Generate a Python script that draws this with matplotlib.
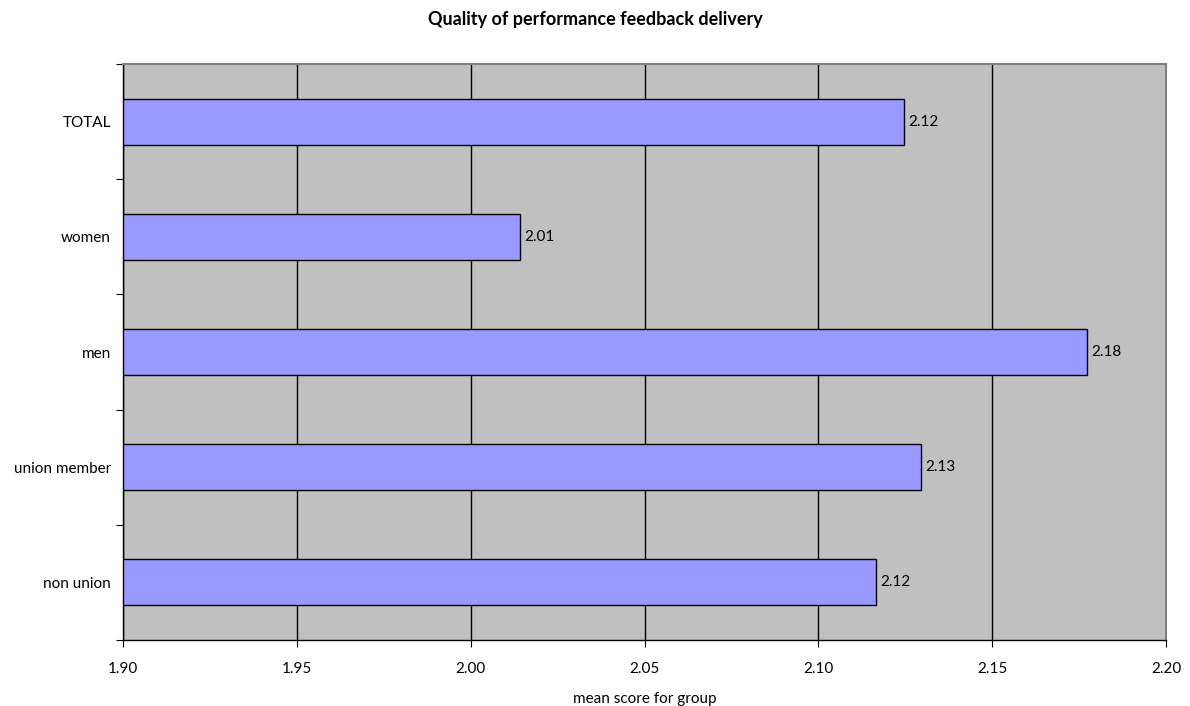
import matplotlib
matplotlib.use('Agg')
import matplotlib.pyplot as plt
import numpy as np

groups = ['TOTAL', 'women', 'men', 'union member', 'non union']
scores = [2.1246, 2.0142, 2.1772, 2.1296, 2.1166]
xticks = [1.90, 1.95, 2.00, 2.05, 2.10, 2.15, 2.20]

plt.rcParams['font.family'] = ['Lato', 'DejaVu Sans']

fig = plt.figure(figsize=(11.9, 7.06), dpi=100)
ax = fig.add_axes([123.3/1190, 1 - 640/706, (1166 - 123.3)/1190, (640 - 64)/706])
ax.set_facecolor('#c0c0c0')

# first category at the top
ypos = np.arange(len(groups))[::-1]
ax.barh(ypos, np.array(scores) - 1.90, left=1.90, height=0.4,
        color='#9999ff', edgecolor='black', linewidth=1.0, zorder=3)
for y, v in zip(ypos, scores):
    ax.text(v + 0.0012, y, '%.2f' % v, va='center', ha='left', fontsize=11, zorder=4)

ax.set_xlim(1.90, 2.20)
ax.set_ylim(-0.5, len(groups) - 0.5)
ax.set_xticks(xticks)
ax.set_xticklabels(['%.2f' % t for t in xticks], fontsize=11)
ax.xaxis.grid(True, color='black', linewidth=1.0, zorder=1)
ax.set_axisbelow(True)

# y ticks at the category boundaries, labels centred on the bars
ax.set_yticks(np.arange(-0.5, len(groups), 1.0))
ax.set_yticklabels([])
ax.set_yticks(ypos, minor=True)
ax.set_yticklabels(groups, minor=True, fontsize=11)
ax.tick_params(axis='y', which='major', length=5, color='black', direction='out')
ax.tick_params(axis='y', which='minor', length=0, pad=9)
ax.tick_params(axis='x', length=5, direction='out', pad=11)

for s in ['top', 'right']:
    ax.spines[s].set_color('#808080')
    ax.spines[s].set_linewidth(1.5)
for s in ['left', 'bottom']:
    ax.spines[s].set_color('black')
    ax.spines[s].set_linewidth(1.0)

ax.set_xlabel('mean score for group', fontsize=11, labelpad=11)
fig.text(0.5, 1 - 20/706, 'Quality of performance feedback delivery',
         ha='center', va='center', fontsize=13, fontweight='bold')

fig.savefig('out.png', dpi=100)
